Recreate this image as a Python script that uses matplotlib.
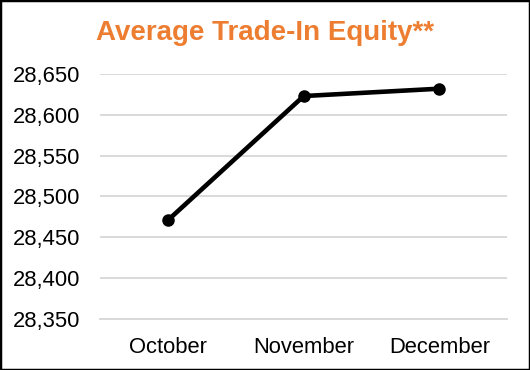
import matplotlib
matplotlib.use('Agg')
import matplotlib.pyplot as plt
from matplotlib.patches import Rectangle
from matplotlib.ticker import FuncFormatter

plt.rcParams['font.family'] = ['Liberation Sans', 'DejaVu Sans']

months = ['October', 'November', 'December']
equity = [28471, 28623, 28632]
y_ticks = [28350, 28400, 28450, 28500, 28550, 28600, 28650]

fig = plt.figure(figsize=(5.3, 3.7), dpi=100)
ax = fig.add_axes([0.189, 0.138, 0.768, 0.662])

x = range(len(months))
ax.plot(x, equity, color='black', linewidth=3.3, marker='o', markersize=8,
        clip_on=False, zorder=3)

ax.set_xlim(-0.5, len(months) - 0.5)
ax.set_ylim(y_ticks[0], y_ticks[-1])
ax.set_yticks(y_ticks)
ax.yaxis.set_major_formatter(FuncFormatter(lambda v, p: '{:,.0f}'.format(v)))
ax.set_xticks(list(x))
ax.set_xticklabels(months)

ax.grid(axis='y', color='#D9D9D9', linewidth=1.4)
ax.set_axisbelow(True)
for s in ['top', 'right', 'left']:
    ax.spines[s].set_visible(False)
ax.spines['bottom'].set_color('#D9D9D9')
ax.spines['bottom'].set_linewidth(1.4)
ax.tick_params(axis='both', length=0, labelsize=15.8, colors='black')
ax.tick_params(axis='y', pad=14)
ax.tick_params(axis='x', pad=13)

fig.text(0.5, 0.91, 'Average Trade-In Equity**', ha='center', va='center',
         fontsize=20, fontweight='bold', color='#ED7D31')

fig.patches.append(Rectangle((0, 0), 1, 1, transform=fig.transFigure,
                             fill=False, edgecolor='black', linewidth=2.5))

fig.savefig('out.png', dpi=100)
